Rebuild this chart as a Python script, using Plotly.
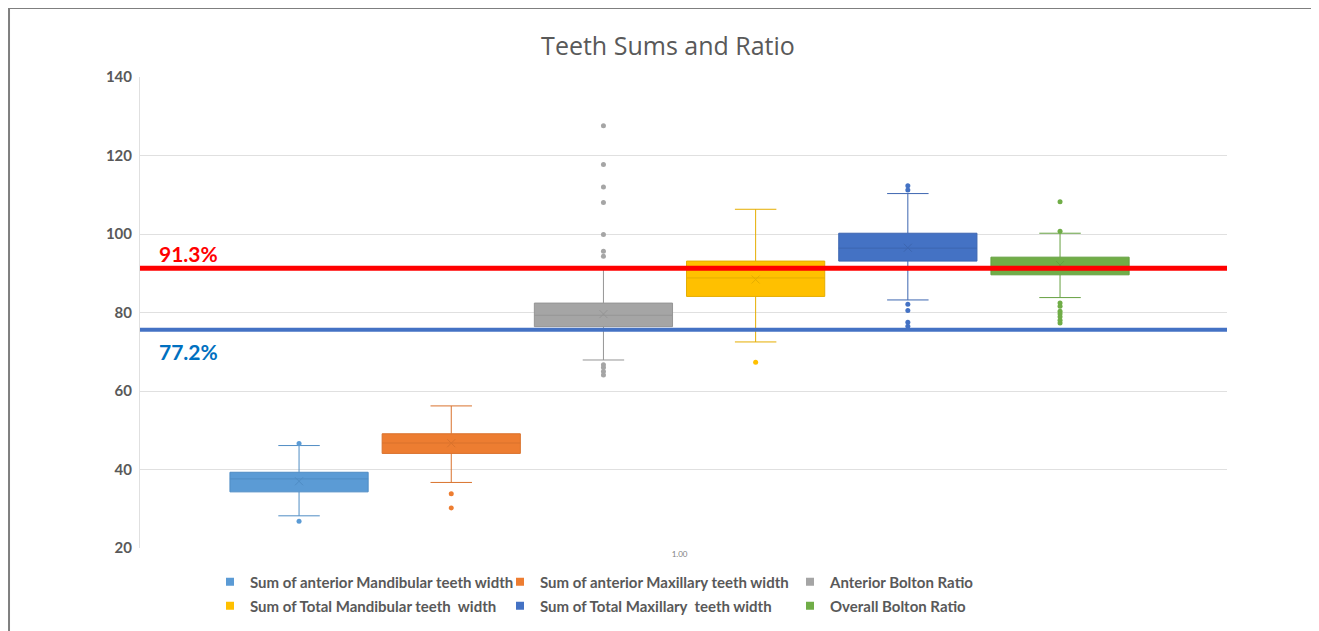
import plotly.graph_objects as go

# ---------------- data ----------------
series_names = [
    "Sum of anterior Mandibular teeth width",
    "Sum of anterior Maxillary teeth width",
    "Anterior Bolton Ratio",
    "Sum of Total Mandibular teeth  width",
    "Sum of Total Maxillary  teeth width",
    "Overall Bolton Ratio",
]
colors = ["#5B9BD5", "#ED7D31", "#A5A5A5", "#FFC000", "#4472C4", "#70AD47"]
line_colors = ["#4F8CC4", "#D9722C", "#959595", "#E5AD00", "#3D66B0", "#65A040"]

q1_vals = [34.3, 44.1, 76.4, 84.1, 93.1, 89.6]
median_vals = [37.6, 46.75, 79.3, 88.8, 96.4, 91.5]
q3_vals = [39.3, 49.1, 82.4, 93.1, 100.2, 94.1]
lower_fence = [28.2, 36.7, 67.9, 72.5, 83.2, 83.8]
upper_fence = [46.1, 56.2, 91.0, 106.3, 110.3, 100.2]
mean_vals = [37.0, 46.7, 79.6, 88.4, 96.5, 92.1]
outliers = [
    [46.6, 26.8],
    [33.8, 30.2],
    [94.3, 95.6, 99.9, 108.0, 112.0, 117.7, 127.6, 66.7, 66.0, 65.0, 64.1],
    [67.3],
    [112.3, 111.2, 82.1, 80.5, 77.5, 76.5],
    [100.7, 108.2, 82.4, 81.6, 80.3, 79.7, 78.9, 78.0, 77.3],
]

ref_lines = [91.3, 75.6]
ref_labels = ["91.3%", "77.2%"]
ref_colors = ["#FF0000", "#4472C4"]
ref_label_colors = ["#FF0000", "#0070C0"]
ref_shifts = [15, -22]

x_tick_label = "1.00"
title_text = "Teeth Sums and Ratio"

# ---------------- figure ----------------
fig = go.Figure()
positions = list(range(len(series_names)))

for i, name in enumerate(series_names):
    fig.add_trace(go.Box(
        x=[positions[i]], q1=[q1_vals[i]], median=[median_vals[i]], q3=[q3_vals[i]],
        lowerfence=[lower_fence[i]], upperfence=[upper_fence[i]],
        boxpoints=False, width=0.908, whiskerwidth=0.3,
        fillcolor=colors[i], line=dict(color=line_colors[i], width=1),
        name=name, showlegend=False, hoverinfo="skip",
    ))
    fig.add_trace(go.Scatter(
        x=[positions[i]] * len(outliers[i]), y=outliers[i], mode="markers",
        marker=dict(color=colors[i], size=5), showlegend=False, hoverinfo="skip",
    ))
    fig.add_trace(go.Scatter(
        x=[positions[i]], y=[mean_vals[i]], mode="markers",
        marker=dict(symbol="x-thin", size=8, line=dict(color=line_colors[i], width=1)),
        showlegend=False, hoverinfo="skip",
    ))

# legend entries (two rows)
for i, name in enumerate(series_names):
    fig.add_trace(go.Scatter(
        x=[None], y=[None], mode="markers", name=name,
        marker=dict(symbol="square", size=8, color=colors[i]),
        legend="legend" if i < 3 else "legend2",
    ))

for val, lab, col, lcol, sh in zip(ref_lines, ref_labels, ref_colors, ref_label_colors, ref_shifts):
    fig.add_shape(type="line", xref="paper", yref="y", x0=0, x1=1, y0=val, y1=val,
                  line=dict(color=col, width=5 if col == "#FF0000" else 4), layer="above")
    fig.add_annotation(xref="paper", yref="y", x=0.0156, y=val, text="<b>%s</b>" % lab,
                       showarrow=False, xanchor="left", yanchor="middle", yshift=sh,
                       font=dict(family="Lato", size=21, color=lcol))

# outer border (top and left)
fig.add_shape(type="line", xref="paper", yref="paper", x0=-0.1205, x1=1.1, y0=1.1465, y1=1.1465,
              line=dict(color="#7F7F7F", width=2))
fig.add_shape(type="line", xref="paper", yref="paper", x0=-0.1205, x1=-0.1205, y0=1.1465, y1=-0.3,
              line=dict(color="#7F7F7F", width=2))

legend_common = dict(
    orientation="h", xanchor="left", yanchor="middle",
    font=dict(family="Lato", size=15, color="#595959", weight="bold"),
    entrywidth=245, entrywidthmode="pixels", bgcolor="rgba(0,0,0,0)",
    itemclick=False, itemdoubleclick=False,
)

# page body adds an 8px offset; figure is sized so plot area lands at x 140-1227, y 77-548
fig.update_layout(
    width=1311, height=623,
    margin=dict(l=132, r=92, t=69, b=83, autoexpand=False),
    paper_bgcolor="white", plot_bgcolor="white",
    title=dict(text=title_text, x=(668 - 8) / 1311, xref="container", xanchor="center",
               y=1 - 38 / 623, yref="container", yanchor="middle",
               font=dict(family="Open Sans", size=25, color="#595959")),
    xaxis=dict(range=[-1.045, 6.097], showgrid=False, zeroline=False, showline=False,
               tickmode="array", tickvals=[2.5], ticktext=[x_tick_label], ticks="",
               tickfont=dict(family="Lato", size=8, color="#7F7F7F")),
    yaxis=dict(range=[20, 140], dtick=20, gridcolor="#E0E0E0", gridwidth=1,
               zeroline=False, showline=True, linecolor="#E0E0E0", linewidth=1,
               tickfont=dict(family="Lato", size=15, color="#595959", weight="bold"),
               ticklabelstandoff=4),
    legend=dict(x=(210 - 140) / 1087, y=(548 - 582) / 471, **legend_common),
    legend2=dict(x=(210 - 140) / 1087, y=(548 - 606) / 471, **legend_common),
    showlegend=True,
)

fig.write_html("out.html")
